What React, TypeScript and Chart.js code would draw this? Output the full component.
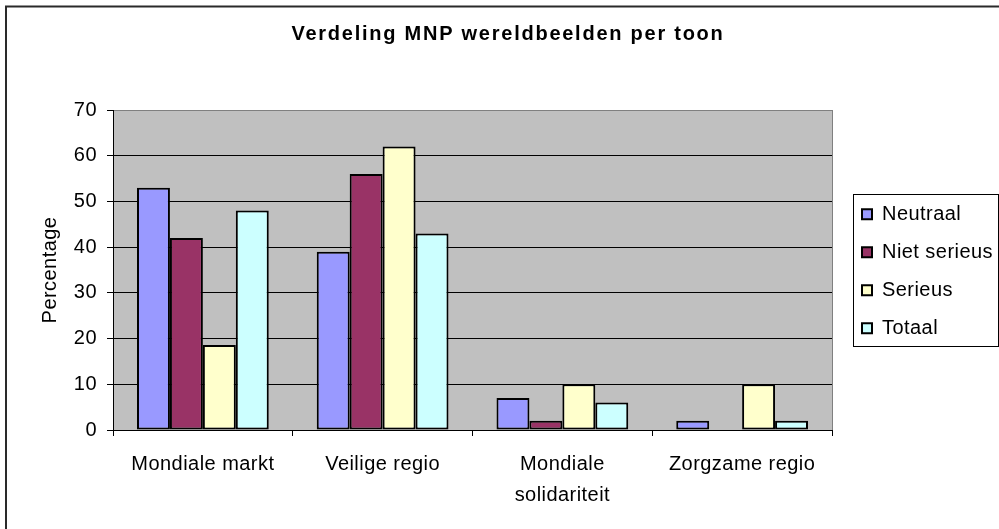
import React, { useEffect, useRef } from 'react';
import { Chart, registerables } from 'chart.js';

Chart.register(...registerables);

const chartTitle = 'Verdeling MNP wereldbeelden per toon';
const yAxisTitle = 'Percentage';
const categories: (string | string[])[] = ['Mondiale markt', 'Veilige regio', ['Mondiale', 'solidariteit'], 'Zorgzame regio'];
const seriesNames = ['Neutraal', 'Niet serieus', 'Serieus', 'Totaal'];
const seriesColors = ['#9999FF', '#993366', '#FFFFCC', '#CCFFFF'];
const neutraal = [53, 39, 7, 2];
const nietSerieus = [42, 56, 2, 0];
const serieus = [18.6, 62, 10, 10];
const totaal = [48, 43, 6, 2];
const yMin = 0;
const yMax = 70;
const yStep = 10;

const FONT = "'Liberation Sans', Arial, sans-serif";

const decorPlugin = {
  id: 'decor',
  beforeLayout(chart: any) {
    chart.ctx.letterSpacing = '0.45px';
  },
  beforeDraw(chart: any) {
    const ctx = chart.ctx;
    ctx.letterSpacing = '0.45px';
    const tb = chart.titleBlock;
    if (tb && !tb.__wrapped) {
      const orig = tb.draw.bind(tb);
      tb.draw = (...args: any[]) => {
        ctx.save();
        ctx.letterSpacing = '1.75px';
        orig(...args);
        ctx.restore();
      };
      tb.__wrapped = true;
    }
    const a = chart.chartArea;
    ctx.save();
    ctx.fillStyle = '#C0C0C0';
    ctx.fillRect(a.left, a.top, a.right - a.left, a.bottom - a.top);
    ctx.strokeStyle = '#808080';
    ctx.lineWidth = 1;
    ctx.strokeRect(Math.round(a.left) + 0.5, Math.round(a.top) + 0.5, Math.round(a.right - a.left), Math.round(a.bottom - a.top));
    ctx.restore();
  },
  afterDraw(chart: any) {
    const ctx = chart.ctx;
    const lg = chart.legend;
    ctx.save();
    if (lg && lg.legendHitBoxes && lg.legendHitBoxes.length) {
      const hb = lg.legendHitBoxes;
      const first = hb[0];
      const last = hb[hb.length - 1];
      const left = Math.round(first.left - 9) + 0.5;
      const top = Math.round(first.top - 10) + 0.5;
      const right = 998.5;
      const bottom = Math.round(last.top + last.height + 8) + 0.5;
      ctx.strokeStyle = '#000';
      ctx.lineWidth = 1;
      ctx.strokeRect(left, top, right - left, bottom - top);
    }
    ctx.strokeStyle = '#2a2a2a';
    ctx.lineWidth = 2;
    ctx.strokeRect(6, 6.5, 1200, 1200);
    ctx.restore();
  },
};

export default function App() {
  const canvasRef = useRef<HTMLCanvasElement | null>(null);

  useEffect(() => {
    if (!canvasRef.current) return;
    Chart.defaults.font.family = FONT;
    Chart.defaults.color = '#000';
    const series = [neutraal, nietSerieus, serieus, totaal];
    const chart = new Chart(canvasRef.current, {
      type: 'bar',
      data: {
        labels: categories as any,
        datasets: series.map((d, i) => ({
          label: seriesNames[i],
          data: d,
          backgroundColor: seriesColors[i],
          borderColor: '#000',
          borderWidth: 2,
          borderSkipped: false,
          barPercentage: 1,
          categoryPercentage: 0.733,
        })),
      },
      options: {
        responsive: false,
        animation: false,
        events: [],
        layout: { padding: { left: 17, right: 0, top: 0, bottom: 5 } },
        plugins: {
          tooltip: { enabled: false },
          title: {
            display: true,
            text: chartTitle,
            color: '#000',
            font: { family: FONT, size: 20, weight: 'bold' },
            padding: { top: 22.5, bottom: 63.5 },
          },
          legend: {
            display: true,
            position: 'right',
            maxWidth: 155,
            title: {
              display: true,
              text: ' ',
              font: { family: FONT, size: 12 },
              padding: { top: 2.1, bottom: 2.1 },
            },
            labels: {
              font: { family: FONT, size: 20 },
              color: '#000',
              boxWidth: 10,
              boxHeight: 10,
              padding: 18,
            },
          },
        },
        scales: {
          x: {
            grid: {
              display: true,
              offset: true,
              drawOnChartArea: false,
              drawTicks: true,
              tickLength: 6,
              color: '#000',
            },
            border: { display: true, color: '#000', width: 1 },
            ticks: {
              autoSkip: false,
              maxRotation: 0,
              minRotation: 0,
              padding: 13,
              color: '#000',
              font: { family: FONT, size: 20, lineHeight: 1.55 },
            },
          },
          y: {
            min: yMin,
            max: yMax,
            afterFit: (s: any) => { s.width = 96; },
            grid: {
              display: true,
              drawTicks: true,
              tickLength: 6,
              color: (c: any) => (c.tick && c.tick.value === yMax ? '#808080' : '#000'),
              tickColor: '#000',
              lineWidth: 1,
            },
            border: { display: true, color: '#000', width: 1 },
            ticks: {
              stepSize: yStep,
              padding: 10,
              color: '#000',
              font: { family: FONT, size: 20 },
            },
            title: {
              display: true,
              text: yAxisTitle,
              color: '#000',
              font: { family: FONT, size: 20 },
              padding: { top: 21, bottom: 0 },
            },
          },
          spacer: {
            type: 'linear',
            position: 'right',
            display: true,
            afterFit: (s: any) => { s.width = 12; },
            grid: { display: false, drawTicks: false },
            border: { display: false },
            ticks: { display: false },
          },
        },
      } as any,
      plugins: [decorPlugin],
    });
    return () => chart.destroy();
  }, []);

  return (
    <div style={{ position: 'fixed', left: 0, top: 0, width: 999, height: 529, background: '#fff' }}>
      <canvas ref={canvasRef} width={999} height={529} style={{ display: 'block', width: 999, height: 529 }} />
    </div>
  );
}
